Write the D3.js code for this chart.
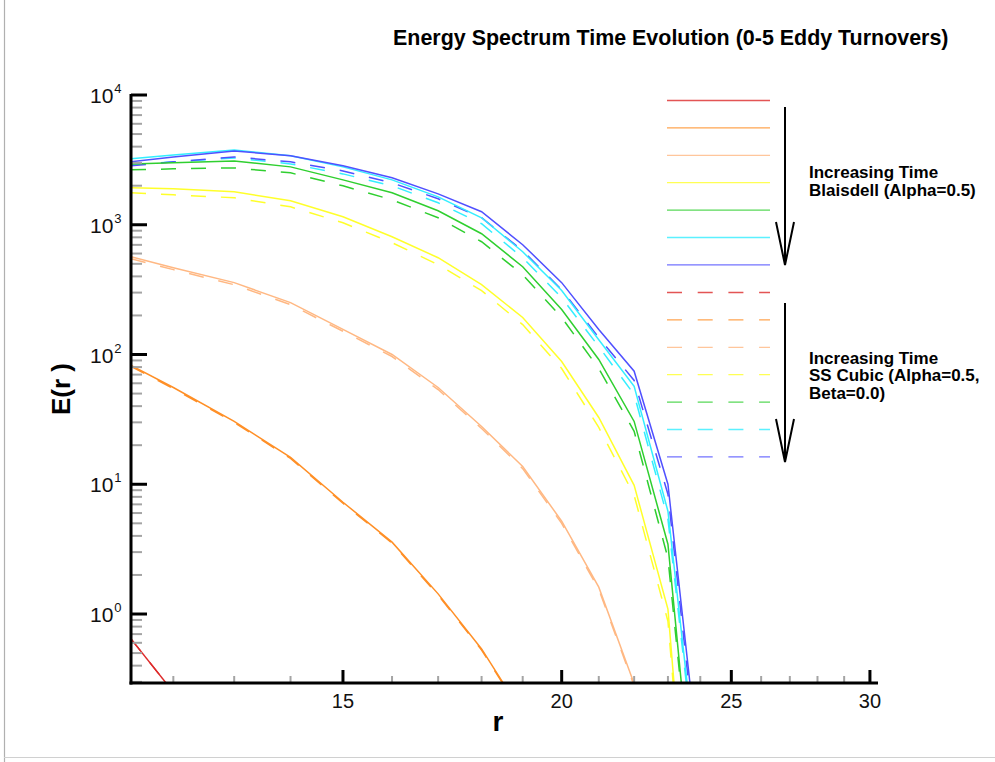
<!DOCTYPE html>
<html><head><meta charset="utf-8">
<script src="https://cdn.jsdelivr.net/npm/d3@7"></script>
<style>
html,body{margin:0;padding:0;background:#fff;}
text{font-family:"Liberation Sans",Arial,Helvetica,sans-serif;}
</style></head>
<body>
<svg id="chart" width="995" height="762"></svg>
<script>
// ---------- data ----------
const r = [11.35, 12, 13, 14, 15, 16, 17, 18, 19, 20, 21, 22, 23, 24];

const seriesNames = ["t0", "t1", "t2", "t3", "t4", "t5", "t6"];
const seriesColors = ["#dd2a2a", "#ff8f26", "#ffb883", "#ffff2a", "#2fcf2f", "#33eeff", "#5050ff"];

// Blaisdell (Alpha=0.5), solid
const blaisdell0 = [0.643, 0.25];
const blaisdell1 = [82.3, 55.7, 30.5, 16.1, 7.27, 3.58, 1.43, 0.538, 0.170];
const blaisdell2 = [567, 467, 358, 251, 156, 100, 55.7, 27.9, 13.7, 5.19, 1.61, 0.29, 0.02];
const blaisdell3 = [1927, 1892, 1795, 1531, 1153, 809, 557, 345, 193, 88.3, 32.7, 9.82, 1.09, 0.001];
const blaisdell4 = [2944, 2999, 3105, 2793, 2218, 1762, 1282, 853, 475, 222, 91.6, 30.5, 3.45, 0.009];
const blaisdell5 = [3221, 3454, 3776, 3396, 2793, 2218, 1641, 1132, 619, 311, 130, 56.8, 6.2, 0.036];
const blaisdell6 = [3055, 3334, 3707, 3396, 2844, 2299, 1731, 1259, 702, 358, 156, 74.4, 10.0, 0.056];

// SS Cubic (Alpha=0.5, Beta=0.0), dashed
const ssCubic0 = [0.643, 0.25];
const ssCubic1 = [80.8, 54.7, 30.0, 15.8, 7.14, 3.52, 1.40, 0.528, 0.167];
const ssCubic2 = [547, 451, 345, 242, 151, 96.5, 53.7, 26.9, 13.2, 5.0, 1.55, 0.28, 0.019];
const ssCubic3 = [1762, 1702, 1614, 1374, 1036, 728, 492, 311, 170, 78, 27.4, 8.22, 0.88, 0.001];
const ssCubic4 = [2649, 2698, 2742, 2512, 1995, 1556, 1132, 740, 412, 193, 78, 25.6, 2.7, 0.009];
const ssCubic5 = [2896, 3055, 3275, 2944, 2466, 1995, 1476, 1018, 557, 274, 115, 49.2, 5.38, 0.032];
const ssCubic6 = [2844, 3055, 3334, 3055, 2600, 2104, 1585, 1132, 631, 316, 135, 63.1, 8.38, 0.045];

const blaisdell = [blaisdell0, blaisdell1, blaisdell2, blaisdell3, blaisdell4, blaisdell5, blaisdell6];
const ssCubic = [ssCubic0, ssCubic1, ssCubic2, ssCubic3, ssCubic4, ssCubic5, ssCubic6];

const xDomain = [11.35, 30.32];
const yDomain = [0.294, 10000];
const xMajorTicks = [15, 20, 25, 30];
const xMinorTicks = [12, 13, 14, 16, 17, 18, 19, 21, 22, 23, 24, 26, 27, 28, 29];
const yMajorExp = [0, 1, 2, 3, 4];

const titleText = "Energy Spectrum Time Evolution (0-5 Eddy Turnovers)";
const legendText1 = ["Increasing Time", "Blaisdell (Alpha=0.5)"];
const legendText2 = ["Increasing Time", "SS Cubic (Alpha=0.5,", "Beta=0.0)"];

// ---------- layout ----------
const svg = d3.select("#chart");
const L = 131, R = 878, T = 95, B = 683;
const x = d3.scaleLog().domain(xDomain).range([L, R]);
const y = d3.scaleLog().domain(yDomain).range([B, T]);

// frame
svg.append("line").attr("x1", 4.5).attr("x2", 4.5).attr("y1", 0).attr("y2", 762)
  .attr("stroke", "#b0b0b0").attr("stroke-width", 1.2);
svg.append("line").attr("x1", 4).attr("x2", 995).attr("y1", 757.5).attr("y2", 757.5)
  .attr("stroke", "#d0d0d0").attr("stroke-width", 1);

// clip
svg.append("defs").append("clipPath").attr("id", "plotclip")
  .append("rect").attr("x", L).attr("y", T).attr("width", R - L).attr("height", B - T);

const plot = svg.append("g").attr("clip-path", "url(#plotclip)");
const line = d3.line()
  .defined(d => d.v != null)
  .x(d => x(d.r)).y(d => y(Math.max(d.v, 1e-6)));

function toPts(arr) { return arr.map((v, i) => ({ r: r[i], v })); }

// dashed first, then solid
ssCubic.forEach((s, i) => {
  plot.append("path").attr("d", line(toPts(s)))
    .attr("fill", "none").attr("stroke", seriesColors[i]).attr("stroke-width", 1.5)
    .attr("stroke-dasharray", "15,15");
});
blaisdell.forEach((s, i) => {
  plot.append("path").attr("d", line(toPts(s)))
    .attr("fill", "none").attr("stroke", seriesColors[i]).attr("stroke-width", 1.5);
});

// ---------- axes ----------
const yAxisG = svg.append("g");
const yMinor = [];
for (let e = -1; e <= 3; e++) for (let m = 2; m <= 9; m++) {
  const v = m * Math.pow(10, e);
  if (v >= yDomain[0] && v <= yDomain[1]) yMinor.push(v);
}
yAxisG.selectAll(".ymin").data(yMinor).enter().append("line")
  .attr("x1", L).attr("x2", L + 11).attr("y1", d => y(d)).attr("y2", d => y(d))
  .attr("stroke", "#a4a4a4").attr("stroke-width", 2);
yAxisG.selectAll(".ymaj").data(yMajorExp).enter().append("line")
  .attr("x1", L).attr("x2", L + 16).attr("y1", d => y(Math.pow(10, d))).attr("y2", d => y(Math.pow(10, d)))
  .attr("stroke", "#000").attr("stroke-width", 3);
const yl = yAxisG.selectAll(".ylab").data(yMajorExp).enter().append("text")
  .attr("x", 90).attr("y", d => y(Math.pow(10, d)) + 8)
  .attr("font-size", 21).attr("fill", "#111");
yl.append("tspan").text("10");
yl.append("tspan").attr("dy", -10).attr("dx", 1).attr("font-size", 13).text(d => d);

const xAxisG = svg.append("g");
xAxisG.selectAll(".xmin").data(xMinorTicks).enter().append("line")
  .attr("x1", d => x(d)).attr("x2", d => x(d)).attr("y1", B).attr("y2", B - 7)
  .attr("stroke", "#a4a4a4").attr("stroke-width", 2);
xAxisG.selectAll(".xmaj").data(xMajorTicks).enter().append("line")
  .attr("x1", d => x(d)).attr("x2", d => x(d)).attr("y1", B).attr("y2", B - 13)
  .attr("stroke", "#000").attr("stroke-width", 3);
xAxisG.selectAll(".xlab").data(xMajorTicks).enter().append("text")
  .attr("x", d => x(d)).attr("y", 708).attr("text-anchor", "middle")
  .attr("font-size", 20).attr("fill", "#111").text(d => d);

// axis lines
svg.append("line").attr("x1", L).attr("x2", L).attr("y1", T - 1).attr("y2", B + 1.5)
  .attr("stroke", "#000").attr("stroke-width", 3);
svg.append("line").attr("x1", L - 1.5).attr("x2", R).attr("y1", B).attr("y2", B)
  .attr("stroke", "#000").attr("stroke-width", 3);

// axis titles
svg.append("text").attr("x", 498).attr("y", 731).attr("text-anchor", "middle")
  .attr("font-size", 28).attr("font-weight", "bold").text("r");
svg.append("text").attr("transform", "translate(70,389) rotate(-90)")
  .attr("text-anchor", "middle").attr("font-size", 26).attr("font-weight", "bold")
  .text("E(r )");

// title
const title = svg.append("text").attr("x", 393).attr("y", 45)
  .attr("font-size", 18).attr("font-weight", "bold").text(titleText);
const tw = title.node().getComputedTextLength();
title.attr("font-size", 18 * 556 / tw);

// ---------- legend ----------
const lg = svg.append("g");
seriesNames.forEach((n, i) => {
  const yy = 100.5 + i * 27.4;
  lg.append("line").attr("x1", 667).attr("x2", 770).attr("y1", yy).attr("y2", yy)
    .attr("stroke", seriesColors[i]).attr("stroke-width", 1.3).attr("opacity", 0.8);
});
seriesNames.forEach((n, i) => {
  const yy = 292.5 + i * 27.4;
  lg.append("line").attr("x1", 667).attr("x2", 770).attr("y1", yy).attr("y2", yy)
    .attr("stroke", seriesColors[i]).attr("stroke-width", 1.3).attr("opacity", 0.8)
    .attr("stroke-dasharray", "15,15.7");
});
function arrow(y0, y1) {
  lg.append("line").attr("x1", 785).attr("x2", 785).attr("y1", y0).attr("y2", y1)
    .attr("stroke", "#000").attr("stroke-width", 2);
  lg.append("path").attr("d", `M776,${y1 - 43} L785,${y1} L794,${y1 - 43}`)
    .attr("fill", "none").attr("stroke", "#000").attr("stroke-width", 2);
}
arrow(107, 265);
arrow(303, 462);
legendText1.forEach((t, i) => {
  lg.append("text").attr("x", 809).attr("y", 178 + i * 18).attr("font-size", 17)
    .attr("font-weight", "bold").text(t);
});
legendText2.forEach((t, i) => {
  lg.append("text").attr("x", 809).attr("y", 363.5 + i * 17.5).attr("font-size", 17)
    .attr("font-weight", "bold").text(t);
});
</script>
</body></html>
